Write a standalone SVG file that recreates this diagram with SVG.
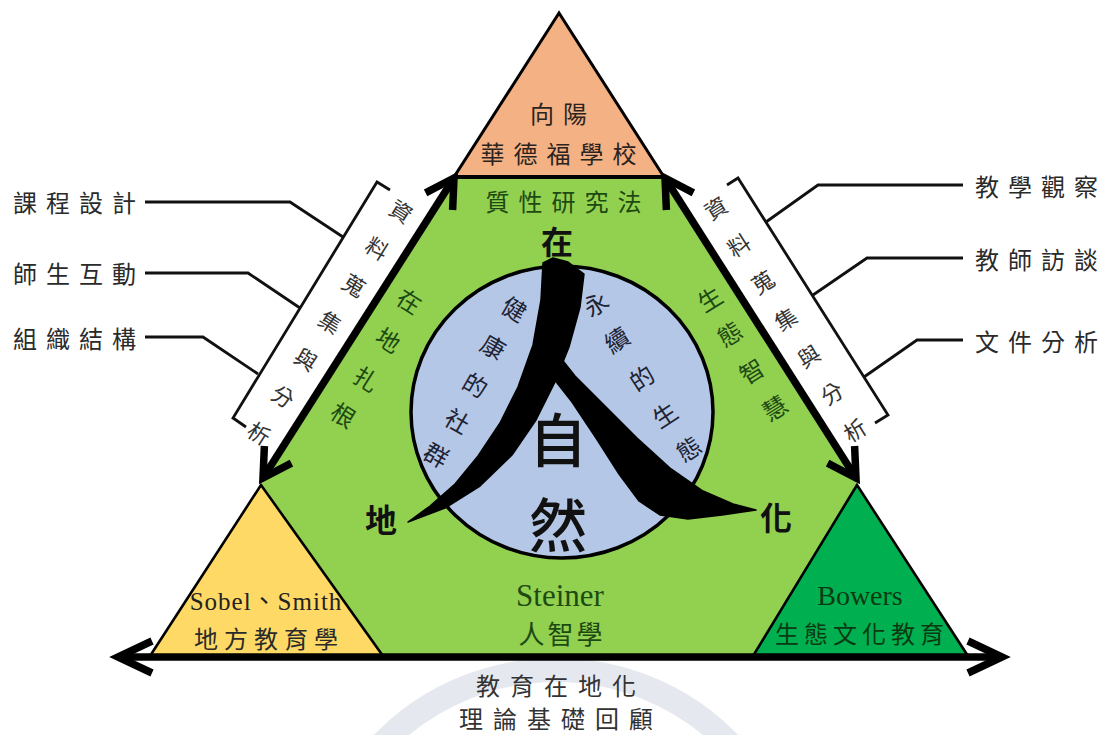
<svg xmlns="http://www.w3.org/2000/svg" width="1108" height="735" viewBox="0 0 1108 735">
  <defs>
    <style>
      .cjk { font-family: "Noto Sans CJK TC", "Noto Sans CJK SC", sans-serif; }
      .serif { font-family: "Liberation Serif", "Noto Sans CJK TC", serif; }
      .side { font-size: 24px; letter-spacing: 9px; fill: #2a2a2a; dominant-baseline: central; }
      .brk { font-size: 22px; fill: #333; text-anchor: middle; dominant-baseline: central; }
      .grn { font-size: 24px; fill: #1d4a12; text-anchor: middle; dominant-baseline: central; }
      .inner { font-size: 24px; fill: #1e2333; text-anchor: middle; dominant-baseline: central; }
      .big { font-size: 32px; font-weight: 700; fill: #111; text-anchor: middle; dominant-baseline: central; }
      .lbl { text-anchor: middle; dominant-baseline: central; }
      .tri { stroke: #000; stroke-width: 2.6; stroke-linejoin: miter; }
      .arrow { fill: none; stroke: #000; stroke-width: 7.5; stroke-linecap: butt; stroke-linejoin: miter; }
      .conn { fill: none; stroke: #111; stroke-width: 2.8; stroke-linejoin: miter; }
      .brush { fill: #000; stroke: #000; stroke-width: 1.5; stroke-linejoin: round; }
    </style>
  </defs>

  <rect width="1108" height="735" fill="#fff"/>

  <!-- faint seal behind the bottom caption -->
  <circle cx="556" cy="912" r="242" fill="none" stroke="#e6e8f0" stroke-width="24"/>

  <!-- central field -->
  <g id="field">
    <polygon points="454,177 665,177 858,485 753,656 383,656 261,485" fill="#92d050"/>
  </g>

  <g id="node-school">
    <polygon points="559,13 454,177 664,177" fill="#f4b183" stroke="#000" stroke-width="3" stroke-linejoin="miter"/>
    <line x1="452" y1="177" x2="666" y2="177" stroke="#000" stroke-width="4"/>
    <text class="cjk lbl" x="563" y="112" font-size="24" letter-spacing="9" fill="#2b2320">向陽</text>
    <text class="cjk lbl" x="563" y="152" font-size="24" letter-spacing="9" fill="#2b2320">華德福學校</text>
    <text class="cjk lbl" x="568" y="200" font-size="24" letter-spacing="9" fill="#1d4a12">質性研究法</text>
  </g>

  <g id="node-place">
    <polygon points="261,485 150,656 383,656" fill="#ffd966" class="tri"/>
    <text class="serif lbl" x="266" y="601" font-size="25" letter-spacing="1" fill="#222">Sobel、Smith</text>
    <text class="cjk lbl" x="269" y="637" font-size="24" letter-spacing="6" fill="#2a2a2a">地方教育學</text>
  </g>

  <g id="node-eco">
    <polygon points="857,485 753,656 968,656" fill="#00b050" class="tri"/>
    <text class="serif lbl" x="860" y="595" font-size="28" fill="#0b3a12">Bowers</text>
    <text class="cjk lbl" x="862" y="632" font-size="24" letter-spacing="5" fill="#0b3a12">生態文化教育</text>
  </g>

  <g id="node-steiner">
    <text class="serif lbl" x="560" y="595" font-size="31" fill="#1d4a12">Steiner</text>
    <text class="cjk lbl" x="562" y="632" font-size="26" letter-spacing="3" fill="#1d4a12">人智學</text>
  </g>

  <!-- circle with the brush character -->
  <g id="node-nature">
    <ellipse cx="562" cy="412" rx="151" ry="146" fill="#b4c7e7" stroke="#000" stroke-width="3.5"/>
    <path class="brush" d="M553,258 L568,262 L584,274 L580,307 L569,347 L555,382 L536,420 L512,455 L480,486 L445,508 L408,522 L430,506 L455,484 L478,456 L500,423 L518,387 L533,345 L541,300 L543,263 Z"/>
    <path class="brush" d="M556,352 L575,376 L604,405 L637,438 L670,468 L703,491 L733,504 L756,510 L722,515 L688,519 L660,515 L639,501 L619,474 L596,438 L572,402 L550,374 Z"/>
    <text class="cjk lbl" x="558" y="437" font-size="58" font-weight="500" fill="#111">自</text>
    <text class="cjk lbl" x="558" y="522" font-size="58" font-weight="500" fill="#111">然</text>
    <text class="cjk inner" transform="translate(515,308) rotate(30)">健</text>
    <text class="cjk inner" transform="translate(494,346) rotate(30)">康</text>
    <text class="cjk inner" transform="translate(476,384) rotate(30)">的</text>
    <text class="cjk inner" transform="translate(458,420) rotate(30)">社</text>
    <text class="cjk inner" transform="translate(437,454) rotate(30)">群</text>
    <text class="cjk inner" transform="translate(595,303) rotate(-33)">永</text>
    <text class="cjk inner" transform="translate(616,339) rotate(-33)">續</text>
    <text class="cjk inner" transform="translate(641,377) rotate(-33)">的</text>
    <text class="cjk inner" transform="translate(664,414) rotate(-33)">生</text>
    <text class="cjk inner" transform="translate(688,448) rotate(-33)">態</text>
  </g>

  <g id="corner-words">
    <text class="cjk big" x="557" y="240">在</text>
    <text class="cjk big" x="381" y="518">地</text>
    <text class="cjk big" x="776" y="516">化</text>
  </g>

  <g id="side-labels">
    <text class="cjk grn" transform="translate(410,300) rotate(32)">在</text>
    <text class="cjk grn" transform="translate(389,339) rotate(32)">地</text>
    <text class="cjk grn" transform="translate(367,378) rotate(32)">扎</text>
    <text class="cjk grn" transform="translate(344,414) rotate(32)">根</text>
    <text class="cjk grn" transform="translate(709,298) rotate(-32)">生</text>
    <text class="cjk grn" transform="translate(729,333) rotate(-32)">態</text>
    <text class="cjk grn" transform="translate(751,370) rotate(-32)">智</text>
    <text class="cjk grn" transform="translate(774,407) rotate(-32)">慧</text>
  </g>

  <!-- arrows and leader lines -->
  <g id="connectors">
    <line class="arrow" x1="454" y1="178" x2="263" y2="478"/>
    <polyline class="arrow" points="425.6,192.8 454,178 452.6,210"/>
    <polyline class="arrow" points="291.4,463.2 263,478 264.4,446"/>
    <line class="arrow" x1="665" y1="178" x2="856" y2="478"/>
    <polyline class="arrow" points="693.4,192.8 665,178 666.4,210"/>
    <polyline class="arrow" points="827.6,463.2 856,478 854.6,446"/>
    <line class="arrow" x1="118" y1="657" x2="1002" y2="657"/>
    <polyline class="arrow" points="152,641 118,657 152,673"/>
    <polyline class="arrow" points="968,641 1002,657 968,673"/>

    <!-- data-collection brackets -->
    <polyline class="conn" points="390,190 377,182 233,418 246,427"/>
    <polyline class="conn" points="727,185 738,178 888,415 875,423"/>
    <polyline class="conn" points="145,202 290,202 343,237"/>
    <polyline class="conn" points="145,273 248,273 300,308"/>
    <polyline class="conn" points="145,337 203,337 258,374"/>
    <polyline class="conn" points="963,185 818,185 766,222"/>
    <polyline class="conn" points="963,258 867,258 813,295"/>
    <polyline class="conn" points="963,340 917,340 864,377"/>
  </g>

  <g id="node-collect-left">
    <text class="cjk brk" transform="translate(402,210) rotate(32)">資</text>
    <text class="cjk brk" transform="translate(378,247) rotate(32)">料</text>
    <text class="cjk brk" transform="translate(355,284) rotate(32)">蒐</text>
    <text class="cjk brk" transform="translate(331,321) rotate(32)">集</text>
    <text class="cjk brk" transform="translate(307,358) rotate(32)">與</text>
    <text class="cjk brk" transform="translate(284,395) rotate(32)">分</text>
    <text class="cjk brk" transform="translate(260,432) rotate(32)">析</text>
  </g>
  <g id="node-collect-right">
    <text class="cjk brk" transform="translate(715,207) rotate(-32)">資</text>
    <text class="cjk brk" transform="translate(738,244) rotate(-32)">料</text>
    <text class="cjk brk" transform="translate(762,281) rotate(-32)">蒐</text>
    <text class="cjk brk" transform="translate(785,318) rotate(-32)">集</text>
    <text class="cjk brk" transform="translate(808,355) rotate(-32)">與</text>
    <text class="cjk brk" transform="translate(831,392) rotate(-32)">分</text>
    <text class="cjk brk" transform="translate(854,429) rotate(-32)">析</text>
  </g>

  <g id="node-methods-left">
    <text class="cjk side" x="13" y="201">課程設計</text>
    <text class="cjk side" x="13" y="272">師生互動</text>
    <text class="cjk side" x="13" y="337">組織結構</text>
  </g>
  <g id="node-methods-right">
    <text class="cjk side" x="975" y="185">教學觀察</text>
    <text class="cjk side" x="975" y="258">教師訪談</text>
    <text class="cjk side" x="975" y="340">文件分析</text>
  </g>

  <g id="node-caption">
    <text class="cjk lbl" x="561" y="684" font-size="24" letter-spacing="10" fill="#333">教育在地化</text>
    <text class="cjk lbl" x="561" y="717" font-size="24" letter-spacing="10" fill="#333">理論基礎回顧</text>
  </g>
</svg>
